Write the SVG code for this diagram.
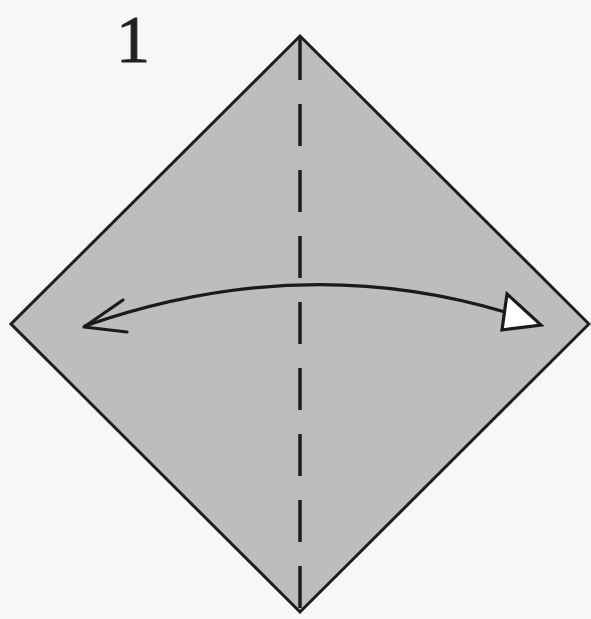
<svg xmlns="http://www.w3.org/2000/svg" width="591" height="619" viewBox="0 0 591 619">
<style>
.paper{fill:#bdbdbd;stroke:#1e1e1e;stroke-width:3;stroke-linejoin:miter}
.fold{stroke:#1e1e1e;stroke-width:3.5;stroke-dasharray:42 24;fill:none}
.arrow{fill:none;stroke:#1a1a1a;stroke-width:3.2;stroke-linecap:round;stroke-linejoin:round}
.head{fill:#ffffff;stroke:#1a1a1a;stroke-width:3.2;stroke-linejoin:miter}
.step{font-family:"Liberation Serif","Times New Roman",serif;font-size:68px;fill:#222;stroke:#222;stroke-width:1}
</style>
<rect width="591" height="619" fill="#f7f7f7"/>
<text class="step" x="116" y="62">1</text>
<g id="paper">
<polygon class="paper" points="300,36 589,324 300,612 11,324"/>
</g>
<g id="foldline">
<line class="fold" x1="300" y1="38" x2="300" y2="610"/>
</g>
<g id="connectors">
<path class="arrow" d="M85,326 Q300,251 505,312"/>
<polyline class="arrow" points="123,300 84,327 127,332"/>
<polygon class="head" points="507,294 541,325 502,330"/>
</g>
</svg>
